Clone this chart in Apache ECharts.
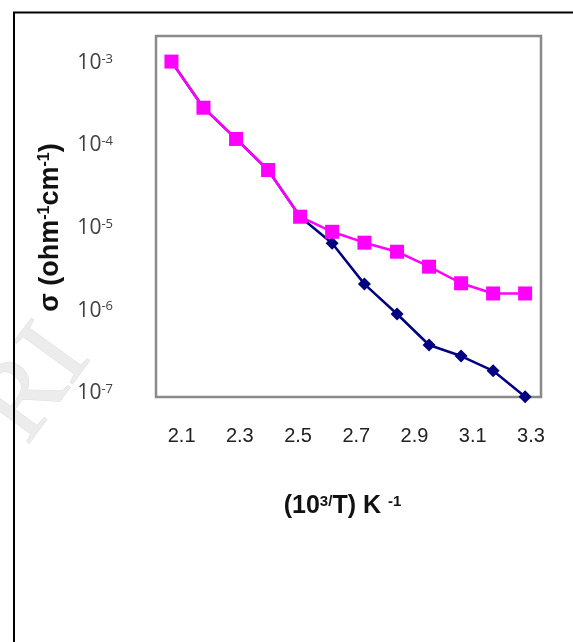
<!DOCTYPE html>
<html>
<head>
<meta charset="utf-8">
<script src="https://cdn.jsdelivr.net/npm/echarts@6/dist/echarts.min.js"></script>
<style>html,body{margin:0;padding:0;background:#fff;}#c{width:573px;height:642px;}</style>
</head>
<body>
<div id="c"></div>
<script>
// 10^3/T values (K^-1) of the measurement points
const xValues = [2.065, 2.175, 2.287, 2.397, 2.507, 2.617, 2.728, 2.840, 2.950, 3.060, 3.170, 3.280];
// conductivity (ohm^-1 cm^-1), navy diamonds
const sigmaNavy = [1.04e-3, 2.87e-4, 1.20e-4, 5.05e-5, 1.37e-5, 6.53e-6, 2.09e-6, 9.08e-7, 3.82e-7, 2.81e-7, 1.86e-7, 9.02e-8];
// conductivity (ohm^-1 cm^-1), magenta squares
const sigmaMagenta = [1.04e-3, 2.87e-4, 1.20e-4, 5.05e-5, 1.37e-5, 9.0e-6, 6.64e-6, 5.16e-6, 3.40e-6, 2.14e-6, 1.61e-6, 1.61e-6];
// tick labels
const xTickLabels = [2.1, 2.3, 2.5, 2.7, 2.9, 3.1, 3.3];
const yTickExponents = [-7, -6, -5, -4, -3];

const X_MIN = 2.012, X_MAX = 3.3345;
const Y_MIN = Math.pow(10, -7.048), Y_MAX = Math.pow(10, -2.673);

const chart = echarts.init(document.getElementById('c'), null, {renderer: 'canvas'});
const pairs = arr => xValues.map((x, i) => [x, arr[i]]);

chart.setOption({
  animation: false,
  backgroundColor: '#fff',
  graphic: [
    {
      type: 'text', z: -10, silent: true,
      x: 36, y: 385, rotation: Math.PI * 0.3,
      style: {text: 'RI', x: 0, y: 0, align: 'center', verticalAlign: 'middle',
        font: '110px "Liberation Serif"', fill: '#ececec', stroke: '#dddddd', lineWidth: 1}
    },
    {
      type: 'polyline', z: 100, silent: true,
      shape: {points: [[14, 642], [14, 12.5], [573, 12.5]]},
      style: {stroke: '#000', lineWidth: 2, fill: null}
    }
  ],
  grid: {
    left: 156, right: 32, top: 36, bottom: 245,
    show: true, borderColor: '#8a8a8a', borderWidth: 2.5, backgroundColor: 'transparent'
  },
  xAxis: {
    type: 'value', min: X_MIN, max: X_MAX,
    axisLine: {show: false}, axisTick: {show: false}, splitLine: {show: false},
    axisLabel: {
      customValues: xTickLabels,
      margin: 29,
      fontFamily: 'Liberation Sans', fontSize: 20, color: '#222',
      formatter: v => v.toFixed(1)
    },
    name: '{b|(10}{s|3/}{b|T) K }{s|-1}',
    nameLocation: 'middle', nameGap: 97,
    nameTextStyle: {
      padding: [0, 12, 0, 0],
      rich: {
        b: {fontFamily: 'Liberation Sans', fontWeight: 'bold', fontSize: 25, color: '#111', verticalAlign: 'bottom'},
        s: {fontFamily: 'Liberation Sans', fontWeight: 'bold', fontSize: 15, color: '#111', verticalAlign: 'top'}
      }
    }
  },
  yAxis: {
    type: 'log', logBase: 10, min: Y_MIN, max: Y_MAX,
    axisLine: {show: false}, axisTick: {show: false}, splitLine: {show: false},
    axisLabel: {
      margin: 43,
      formatter: v => {
        const e = Math.log10(v);
        const r = Math.round(e);
        if (Math.abs(e - r) > 0.01 || yTickExponents.indexOf(r) < 0) return '';
        return '{b|10}{s|' + r + '}';
      },
      rich: {
        b: {fontFamily: 'Open Sans', fontSize: 21, color: '#404040', verticalAlign: 'bottom'},
        s: {fontFamily: 'Open Sans', fontSize: 13, color: '#404040', verticalAlign: 'top'}
      }
    },
    name: '{b|σ (ohm}{s|-1}{b|cm}{s|-1}{b|)}',
    nameLocation: 'middle', nameGap: 92, nameRotate: 90,
    nameTextStyle: {
      padding: [0, 22, 0, 0],
      rich: {
        b: {fontFamily: 'Liberation Sans', fontWeight: 'bold', fontSize: 27, color: '#111', verticalAlign: 'bottom'},
        s: {fontFamily: 'Liberation Sans', fontWeight: 'bold', fontSize: 16, color: '#111', verticalAlign: 'top'}
      }
    }
  },
  series: [
    {
      type: 'line', data: pairs(sigmaNavy), clip: false, z: 2,
      symbol: 'diamond', symbolSize: 13,
      itemStyle: {color: '#000080'},
      lineStyle: {color: '#000080', width: 2.5}
    },
    {
      type: 'line', data: pairs(sigmaMagenta), clip: false, z: 3,
      symbol: 'rect', symbolSize: 14,
      itemStyle: {color: '#FF00FF'},
      lineStyle: {color: '#FF00FF', width: 2.5}
    }
  ]
});
</script>
</body>
</html>
